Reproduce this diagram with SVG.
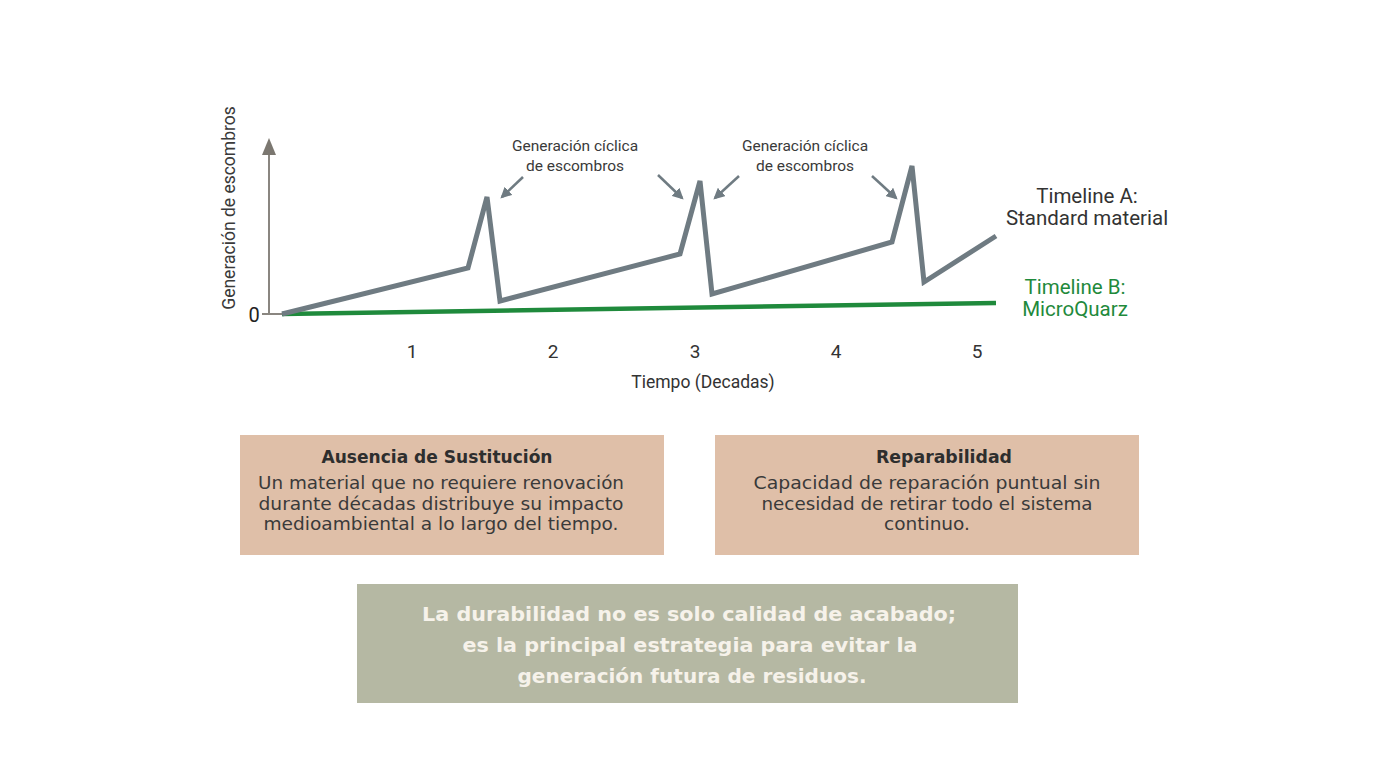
<svg xmlns="http://www.w3.org/2000/svg" width="1376" height="768" viewBox="0 0 1376 768">
<defs>
<style>
.chart{font-family:Roboto,"Liberation Sans",sans-serif;}
.lbl{font-size:15.5px;fill:#3a3a3a;text-anchor:middle;}
.tick{font-size:19px;fill:#333;text-anchor:middle;}
.tl{font-size:20.5px;text-anchor:middle;}
.box{font-family:"DejaVu Sans","Liberation Sans",sans-serif;text-anchor:middle;}
.bt{font-size:17px;font-weight:700;fill:#2e2e2e;}
.bb{font-size:17.5px;fill:#3a3a3a;}
.qt{font-size:20px;font-weight:700;fill:#f6f2ea;}
.ann{stroke:#6f7b82;stroke-width:2.5;fill:none;}
</style>
<marker id="ah" viewBox="0 0 10 10" refX="8" refY="5" markerWidth="4.5" markerHeight="4.5" orient="auto">
<path d="M0,0 L10,5 L0,10 z" fill="#6f7b82"/>
</marker>
</defs>
<rect width="1376" height="768" fill="#ffffff"/>

<g id="axes">
<line x1="269" y1="314" x2="269" y2="148" stroke="#8a8680" stroke-width="2"/>
<path d="M269,138 L276,155 L262,155 z" fill="#7b7770"/>
<line x1="262" y1="314" x2="282" y2="314" stroke="#8a8680" stroke-width="2"/>
<text class="chart" x="254" y="322" font-size="20" fill="#222" text-anchor="middle">0</text>
<text class="chart" transform="translate(235,208) rotate(-90)" font-size="17.5" fill="#3a3a3a" text-anchor="middle">Generación de escombros</text>
<text class="chart tick" x="412" y="358">1</text>
<text class="chart tick" x="553" y="358">2</text>
<text class="chart tick" x="695" y="358">3</text>
<text class="chart tick" x="836" y="358">4</text>
<text class="chart tick" x="977" y="358">5</text>
<text class="chart" x="703" y="388" font-size="17.5" fill="#333" text-anchor="middle">Tiempo (Decadas)</text>
</g>

<g id="timeline-b">
<line x1="282" y1="314" x2="996" y2="303" stroke="#1f8a3c" stroke-width="4.5"/>
<text class="chart tl" x="1075" y="294" fill="#1f8a3c">Timeline B:</text>
<text class="chart tl" x="1075" y="316" fill="#1f8a3c">MicroQuarz</text>
</g>

<g id="timeline-a">
<polyline points="282,314 468,268 487,197 500,301 680,254 700,181 712,294 892,242 912,166 924,282 996,236" fill="none" stroke="#6f7b82" stroke-width="5" stroke-linejoin="miter"/>
<text class="chart tl" x="1087" y="203" fill="#333">Timeline A:</text>
<text class="chart tl" x="1087" y="225" fill="#333">Standard material</text>
</g>

<g id="annotations">
<text class="chart lbl" x="575" y="151">Generación cíclica</text>
<text class="chart lbl" x="575" y="171">de escombros</text>
<text class="chart lbl" x="805" y="151">Generación cíclica</text>
<text class="chart lbl" x="805" y="171">de escombros</text>
</g>

<g id="connectors">
<line class="ann" x1="523" y1="177" x2="502" y2="197" marker-end="url(#ah)"/>
<line class="ann" x1="658" y1="175" x2="682" y2="198" marker-end="url(#ah)"/>
<line class="ann" x1="739" y1="176" x2="715" y2="198" marker-end="url(#ah)"/>
<line class="ann" x1="872" y1="176" x2="896" y2="198" marker-end="url(#ah)"/>
</g>

<g id="box-sustitucion">
<rect x="240" y="435" width="424" height="120" fill="#dfbfa8"/>
<text class="box bt" x="437" y="463" textLength="231" lengthAdjust="spacingAndGlyphs">Ausencia de Sustitución</text>
<text class="box bb" x="441" y="489" textLength="366" lengthAdjust="spacingAndGlyphs">Un material que no requiere renovación</text>
<text class="box bb" x="441" y="510" textLength="365" lengthAdjust="spacingAndGlyphs">durante décadas distribuye su impacto</text>
<text class="box bb" x="441" y="530" textLength="355" lengthAdjust="spacingAndGlyphs">medioambiental a lo largo del tiempo.</text>
</g>

<g id="box-reparabilidad">
<rect x="715" y="435" width="424" height="120" fill="#dfbfa8"/>
<text class="box bt" x="944" y="463" textLength="136" lengthAdjust="spacingAndGlyphs">Reparabilidad</text>
<text class="box bb" x="927" y="489" textLength="347" lengthAdjust="spacingAndGlyphs">Capacidad de reparación puntual sin</text>
<text class="box bb" x="927" y="510" textLength="331" lengthAdjust="spacingAndGlyphs">necesidad de retirar todo el sistema</text>
<text class="box bb" x="927" y="530" textLength="86" lengthAdjust="spacingAndGlyphs">continuo.</text>
</g>

<g id="box-conclusion">
<rect x="357" y="584" width="661" height="119" fill="#b5b8a3"/>
<text class="box qt" x="689" y="621" textLength="534" lengthAdjust="spacingAndGlyphs">La durabilidad no es solo calidad de acabado;</text>
<text class="box qt" x="690" y="652" textLength="455" lengthAdjust="spacingAndGlyphs">es la principal estrategia para evitar la</text>
<text class="box qt" x="692" y="683" textLength="349" lengthAdjust="spacingAndGlyphs">generación futura de residuos.</text>
</g>
</svg>
